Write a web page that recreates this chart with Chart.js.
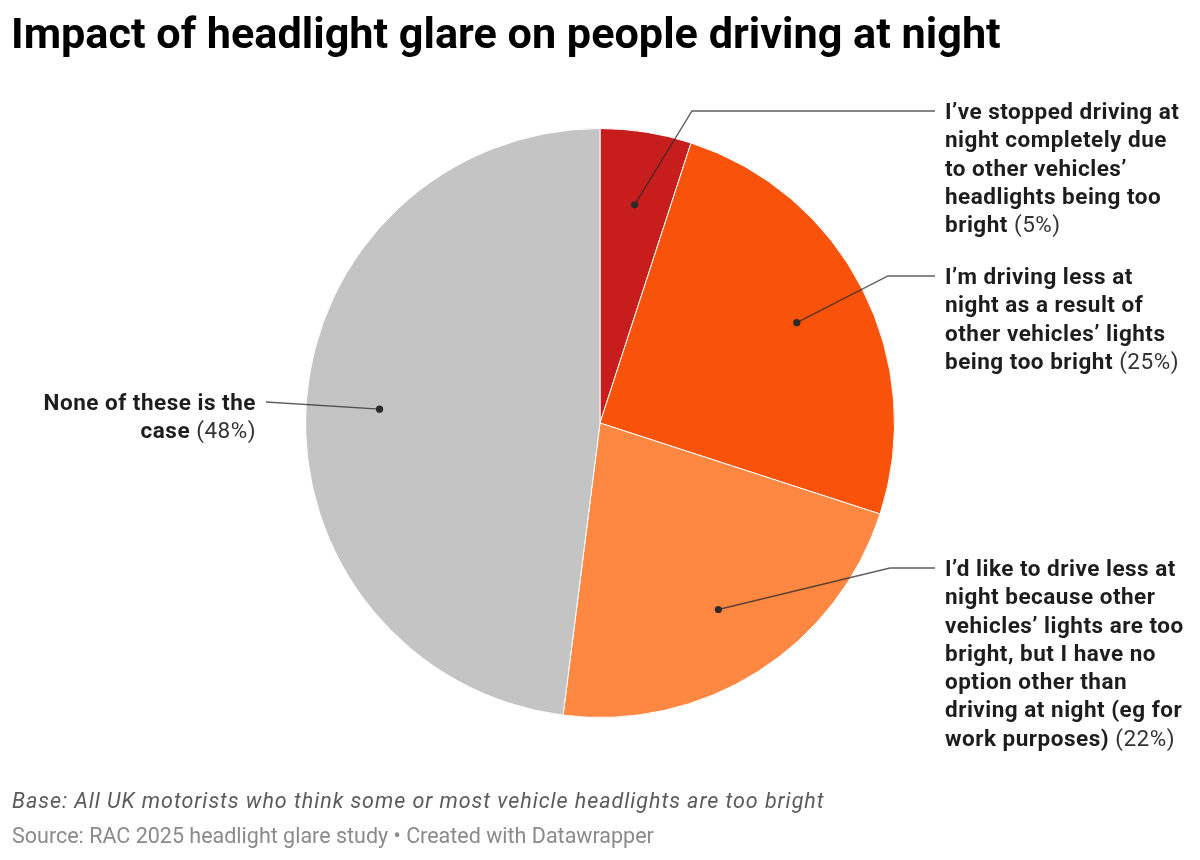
<!DOCTYPE html>
<html>
<head>
<meta charset="utf-8">
<script src="https://cdn.jsdelivr.net/npm/chart.js@4"></script>
<style>
  html, body { margin: 0; padding: 0; background: #fff; }
  body { width: 1200px; height: 860px; position: relative; overflow: hidden; font-family: Roboto, "Noto Sans", sans-serif; }
  #wrap { position: absolute; left: 0; top: 0; width: 1200px; height: 860px; }
  h1 { position: absolute; left: 11px; top: 8px; margin: 0; font-size: 43.2px; line-height: 52px; font-weight: 700; color: #000; }
  .lbl { position: absolute; font-size: 22.5px; line-height: 28.3px; letter-spacing: 0.5px; color: #1d1d1d; font-weight: 700; white-space: nowrap; }
  .lbl span { font-weight: 400; color: #333; }
  .base { position: absolute; left: 12px; top: 788px; font-size: 21.5px; line-height: 26px; letter-spacing: 0.95px; font-style: italic; color: #5b5b5b; white-space: nowrap; }
  .src { position: absolute; left: 12px; top: 823px; font-size: 21.5px; line-height: 26px; color: #8a8a8a; white-space: nowrap; }
</style>
</head>
<body>
<div id="wrap"><canvas id="pie"></canvas></div>
<h1>Impact of headlight glare on people driving at night</h1>
<div id="labels"></div>
<div class="base">Base: All UK motorists who think some or most vehicle headlights are too bright</div>
<div class="src">Source: RAC 2025 headlight glare study • Created with Datawrapper</div>
<script>
var categories = [
    "I’ve stopped driving at night completely due to other vehicles’ headlights being too bright",
    "I’m driving less at night as a result of other vehicles’ lights being too bright",
    "I’d like to drive less at night because other vehicles’ lights are too bright, but I have no option other than driving at night (eg for work purposes)",
    "None of these is the case"
];
var values = [5, 25, 22, 48];
var colors = ['#c71e1d', '#f9520b', '#fe8742', '#c4c4c4'];

// label boxes and leader elbows (layout only)
var labelLines = [
    ["I’ve stopped driving at", "night completely due", "to other vehicles’", "headlights being too", "bright"],
    ["I’m driving less at", "night as a result of", "other vehicles’ lights", "being too bright"],
    ["I’d like to drive less at", "night because other", "vehicles’ lights are too", "bright, but I have no", "option other than", "driving at night (eg for", "work purposes)"],
    ["None of these is the", "case"]
];
var labelPos = [
    {x: 945, y: 111, elbow: 692, side: 'right'},
    {x: 945, y: 276, elbow: 888, side: 'right'},
    {x: 945, y: 568, elbow: 890, side: 'right'},
    {x: 256, y: 402, elbow: null, side: 'left'}
];

var holder = document.getElementById('labels');
labelLines.forEach(function (lines, i) {
    var d = document.createElement('div');
    d.className = 'lbl';
    var p = labelPos[i];
    d.innerHTML = lines.join('<br>') + ' <span>(' + values[i] + '%)</span>';
    d.style.top = (p.y - 14) + 'px';
    if (p.side === 'right') {
        d.style.left = p.x + 'px';
    } else {
        d.style.right = (1200 - p.x) + 'px';
        d.style.textAlign = 'right';
    }
    holder.appendChild(d);
});

var leaders = {
    id: 'leaders',
    afterDatasetsDraw: function (c) {
        var ctx = c.ctx;
        var arcs = c.getDatasetMeta(0).data;
        ctx.save();
        arcs.forEach(function (arc, i) {
            var a = arc.getProps(['x', 'y', 'startAngle', 'endAngle', 'outerRadius'], true);
            var mid = (a.startAngle + a.endAngle) / 2;
            var px = a.x + Math.cos(mid) * a.outerRadius * 0.75;
            var py = a.y + Math.sin(mid) * a.outerRadius * 0.75;
            var p = labelPos[i];
            ctx.strokeStyle = 'rgba(40,40,40,0.75)';
            ctx.lineWidth = 1.4;
            ctx.beginPath();
            ctx.moveTo(px, py);
            if (p.side === 'right') {
                ctx.lineTo(p.elbow, p.y);
                ctx.lineTo(p.x - 10, p.y);
            } else {
                ctx.lineTo(p.x + 10, p.y);
            }
            ctx.stroke();
            ctx.fillStyle = '#2b2b2b';
            ctx.beginPath();
            ctx.arc(px, py, 3.6, 0, Math.PI * 2);
            ctx.fill();
        });
        ctx.restore();
    }
};

var canvas = document.getElementById('pie');
canvas.width = 1200;
canvas.height = 860;
new Chart(canvas.getContext('2d'), {
    type: 'pie',
    data: {
        labels: categories,
        datasets: [{
            data: values,
            backgroundColor: colors,
            borderColor: '#ffffff',
            borderWidth: 1
        }]
    },
    options: {
        responsive: false,
        animation: false,
        layout: { padding: { top: 128, bottom: 142, left: 0, right: 0 } },
        plugins: { legend: { display: false }, tooltip: { enabled: false } }
    },
    plugins: [leaders]
});
</script>
</body>
</html>
